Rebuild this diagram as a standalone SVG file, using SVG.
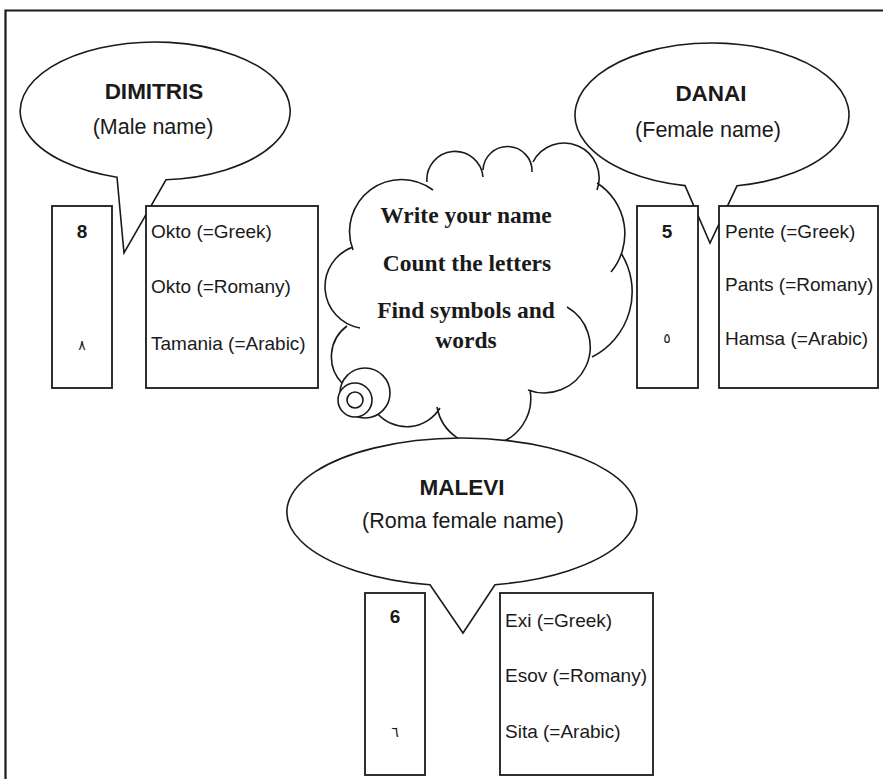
<svg xmlns="http://www.w3.org/2000/svg" width="883" height="779" viewBox="0 0 883 779">
<style>
.frame{fill:none;stroke:#1a1a1a;stroke-width:2.2}
.shape{fill:#fff;stroke:#1a1a1a;stroke-width:1.6;stroke-linejoin:miter}
.line{fill:none;stroke:#1a1a1a;stroke-width:1.6}
.box{fill:#fff;stroke:#1a1a1a;stroke-width:1.8}
.name{font-family:"Liberation Sans",Arial,sans-serif;font-weight:bold;font-size:22.5px;fill:#1a1a1a;text-anchor:middle}
.sub{font-family:"Liberation Sans",Arial,sans-serif;font-size:21.5px;fill:#1a1a1a;text-anchor:middle}
.item{font-family:"Liberation Sans",Arial,sans-serif;font-size:19px;fill:#1a1a1a}
.num{font-family:"Liberation Sans",Arial,sans-serif;font-weight:bold;font-size:19px;fill:#1a1a1a;text-anchor:middle}
.ar{font-family:"DejaVu Sans",sans-serif;font-size:14px;fill:#1a1a1a;text-anchor:middle}
.cloudtxt{font-family:"Liberation Serif","Times New Roman",serif;font-weight:bold;font-size:23.5px;fill:#1a1a1a;text-anchor:middle}
</style>
<rect width="883" height="779" fill="#fff"/>
<path class="frame" d="M5.5,790 V10.5 H895"/>

<g id="cloud">
  <path class="line" d="M353,250 A52 52 0 0 1 433,190 M427,182 A28 28 0 0 1 483,177 M483,170 A20 20 0 0 1 532,172 M533,162 A35 35 0 0 1 597,190 M597,183 A60 60 0 0 1 611,272 M621,253 A73 73 0 0 1 592,357 M567,307 A46 46 0 0 1 528,390 M530,390 A47 47 0 0 1 437,407 M440,408 A39 39 0 0 1 377,413 M342,383 A38 38 0 0 1 347,326 M360,328 A42 42 0 0 1 353,247"/>
  <circle class="shape" cx="365" cy="393" r="25"/>
  <circle class="shape" cx="355" cy="400" r="17"/>
  <circle class="shape" cx="355" cy="400" r="8"/>
  <text class="cloudtxt" x="466" y="223">Write your name</text>
  <text class="cloudtxt" x="467" y="271">Count the letters</text>
  <text class="cloudtxt" x="466" y="318">Find symbols and</text>
  <text class="cloudtxt" x="466" y="348">words</text>
</g>

<g id="dimitris">
  <path class="shape" d="M166,179.8 A135 69 0 1 0 117,177.2 L124,253 Z"/>
  <text class="name" x="154" y="99">DIMITRIS</text>
  <text class="sub" x="153" y="134">(Male name)</text>
  <rect class="box" x="52" y="206" width="60" height="182"/>
  <text class="num" x="82" y="238">8</text>
  <text class="ar" x="82" y="350">٨</text>
  <rect class="box" x="146" y="206" width="172" height="182"/>
  <text class="item" x="151" y="238">Okto (=Greek)</text>
  <text class="item" x="151" y="293">Okto (=Romany)</text>
  <text class="item" x="151" y="350">Tamania (=Arabic)</text>
</g>

<g id="danai">
  <path class="shape" d="M737,185.8 A137 72 0 1 0 685,185.6 L710,243 Z"/>
  <text class="name" x="711" y="101">DANAI</text>
  <text class="sub" x="708" y="137">(Female name)</text>
  <rect class="box" x="637" y="206" width="61" height="182"/>
  <text class="num" x="667" y="238">5</text>
  <text class="ar" x="667" y="343">٥</text>
  <rect class="box" x="719" y="206" width="159" height="182"/>
  <text class="item" x="725" y="238">Pente (=Greek)</text>
  <text class="item" x="725" y="291">Pants (=Romany)</text>
  <text class="item" x="725" y="345">Hamsa (=Arabic)</text>
</g>

<g id="malevi">
  <path class="shape" d="M495,584.7 A175 74 0 1 0 430,584.8 L463,633 Z"/>
  <text class="name" x="462" y="495">MALEVI</text>
  <text class="sub" x="463" y="528">(Roma female name)</text>
  <rect class="box" x="365" y="593" width="60" height="182"/>
  <text class="num" x="395" y="623">6</text>
  <text class="ar" x="395" y="737">٦</text>
  <rect class="box" x="500" y="593" width="153" height="182"/>
  <text class="item" x="505" y="627">Exi (=Greek)</text>
  <text class="item" x="505" y="682">Esov (=Romany)</text>
  <text class="item" x="505" y="738">Sita (=Arabic)</text>
</g>

<g id="connectors"></g>
</svg>
